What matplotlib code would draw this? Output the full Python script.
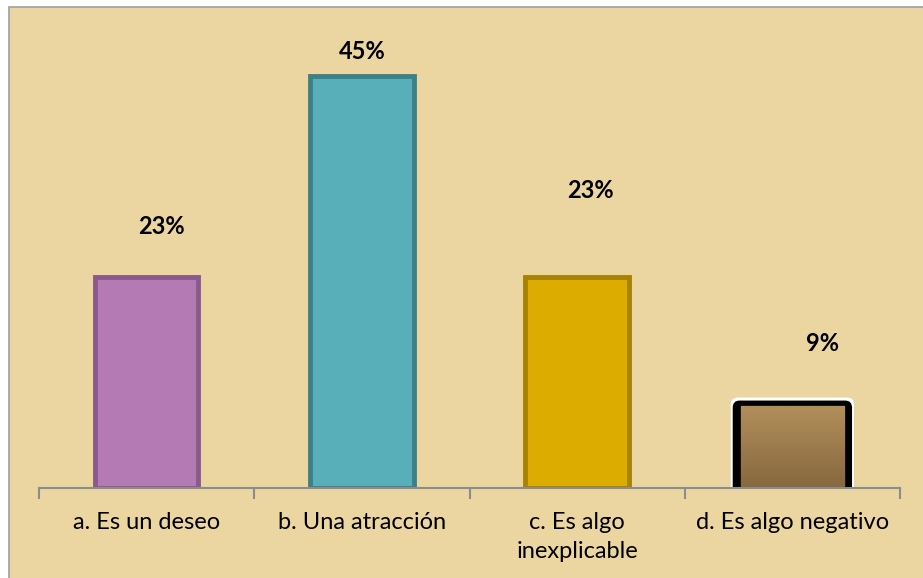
import numpy as np
import matplotlib
matplotlib.use("Agg")
import matplotlib.pyplot as plt
from matplotlib.patches import Rectangle, FancyBboxPatch
from matplotlib.ticker import FixedLocator
from matplotlib.colors import LinearSegmentedColormap

categories = ["a. Es un deseo", "b. Una atracción", "c. Es algo\ninexplicable", "d. Es algo negativo"]
values = [23, 45, 23, 9]
value_labels = ["23%", "45%", "23%", "9%"]

# styling (not data)
fill_colors = ["#B47AB3", "#59AFB9", "#DCAD00", "#A5834F"]
edge_colors = ["#8A5A8A", "#3E8089", "#A68300", "#8A6B44"]
label_dx = [0.07, 0.0, 0.06, 0.14]
label_dy = [5.5, 2.6, 9.5, 6.8]

plt.rcParams['font.family'] = ['Lato', 'DejaVu Sans']

W, H = 923, 578
fig = plt.figure(figsize=(W / 100, H / 100), dpi=100)
fig.patch.set_facecolor("white")

# parchment panel with gray border
panel = Rectangle((9 / W, -0.05), 1.0, 1.05 - 7 / H, transform=fig.transFigure,
                  facecolor="#EBD6A2", edgecolor="#A0A0A0", linewidth=1.2, zorder=-5)
fig.patches.append(panel)

ax = fig.add_axes([39 / W, 90 / H, (900 - 39) / W, (488 - 30) / H])
ax.set_zorder(2)
ax.set_facecolor("none")
x = np.arange(len(categories))
bars = ax.bar(x, values, width=0.48, color=fill_colors, edgecolor=edge_colors,
              linewidth=3.5, zorder=2)

ax.set_xlim(-0.5, len(categories) - 0.5)
ax.set_ylim(0, 50)

# special styling of last bar: gradient fill with black rounded frame
b = bars[-1]
b.set_linewidth(1.0)
bx, bw, bh = b.get_x(), b.get_width(), b.get_height()
px_x = (len(categories)) / (900 - 39)   # data units per pixel in x
px_y = 50 / (488 - 30)                  # data units per pixel in y
aspect = px_y / px_x
for pad_px, top_px, col, z in [(10, 8, "white", 1.5), (8, 5, "black", 1.6)]:
    fb = FancyBboxPatch((bx - pad_px * px_x, -1), bw + 2 * pad_px * px_x, bh + 1 + top_px * px_y,
                        boxstyle="round,pad=0,rounding_size=%f" % (7 * px_x),
                        mutation_aspect=aspect, facecolor=col, edgecolor="none", zorder=z)
    ax.add_patch(fb)
grad = np.linspace(0, 1, 100).reshape(-1, 1)
cmap = LinearSegmentedColormap.from_list("br", ["#B28F5B", "#86683F"])
im = ax.imshow(grad, cmap=cmap, aspect="auto", extent=(bx, bx + bw, 0, bh),
               origin="upper", zorder=2.1)
im.set_clip_path(b)
ax.set_xlim(-0.5, len(categories) - 0.5)
ax.set_ylim(0, 50)

# data labels
for i, (v, lab) in enumerate(zip(values, value_labels)):
    ax.text(x[i] + label_dx[i], v + label_dy[i], lab, ha="center", va="center",
            fontsize=17, fontweight="bold", color="black", zorder=5)

# axes styling
for s in ["left", "right", "top"]:
    ax.spines[s].set_visible(False)
ax.spines["bottom"].set_color("#8C8C8C")
ax.spines["bottom"].set_linewidth(1.5)
ax.spines["bottom"].set_zorder(3)
ax.set_yticks([])
ax.set_xticks(x)
ax.set_xticklabels(categories, fontsize=17, color="black", linespacing=1.5)
ax.xaxis.set_minor_locator(FixedLocator(np.arange(-0.5, len(categories), 1.0)))
ax.tick_params(axis="x", which="major", direction="in", length=5, width=1.5,
               color="#8C8C8C", pad=17)
ax.tick_params(axis="x", which="minor", direction="out", length=8, width=1.5,
               color="#8C8C8C")
for lbl in ax.get_xticklabels():
    lbl.set_verticalalignment("top")

fig.savefig("out.png", dpi=100)
